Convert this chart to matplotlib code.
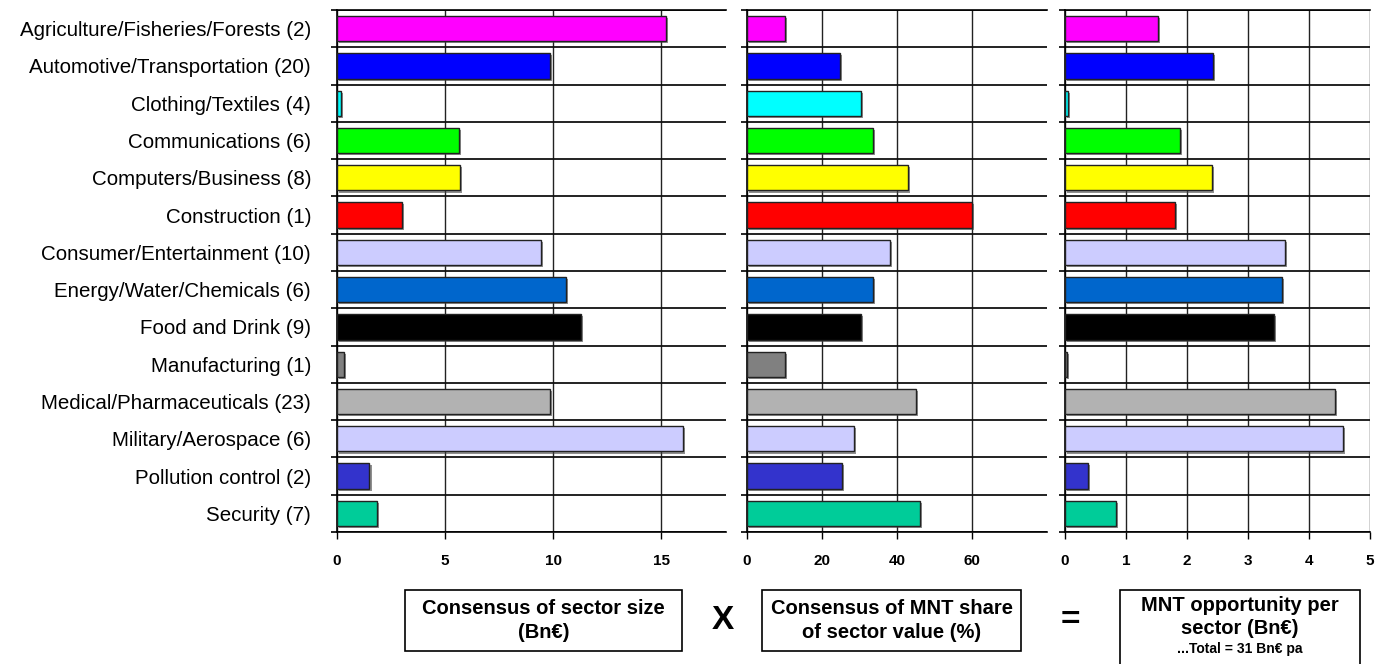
import matplotlib
matplotlib.use("Agg")
import matplotlib.pyplot as plt
import matplotlib.patheffects as pe
from matplotlib.patches import Rectangle
import numpy as np

plt.rcParams['font.family'] = ['Liberation Sans', 'DejaVu Sans']

# Données
sectors = ["Agriculture/Fisheries/Forests (2)", "Automotive/Transportation (20)",
           "Clothing/Textiles (4)", "Communications (6)", "Computers/Business (8)",
           "Construction (1)", "Consumer/Entertainment (10)", "Energy/Water/Chemicals (6)",
           "Food and Drink (9)", "Manufacturing (1)", "Medical/Pharmaceuticals (23)",
           "Military/Aerospace (6)", "Pollution control (2)", "Security (7)"]
sector_size = [15.2, 9.85, 0.2, 5.65, 5.7, 3.0, 9.45, 10.6, 11.3, 0.3, 9.85, 16.0, 1.5, 1.85]
mnt_share = [10, 24.8, 30.5, 33.5, 43, 60, 38.2, 33.5, 30.3, 10, 45, 28.5, 25.2, 46]
mnt_value = [1.52, 2.42, 0.05, 1.89, 2.41, 1.8, 3.6, 3.55, 3.42, 0.03, 4.42, 4.55, 0.38, 0.83]
colors = ["#FF00FF", "#0000FF", "#00FFFF", "#00FF00", "#FFFF00", "#FF0000", "#CCCCFF",
          "#0066CC", "#000000", "#808080", "#B2B2B2", "#CCCCFF", "#3333CC", "#00CC99"]

ticks1 = [0, 5, 10, 15]
ticks2 = [0, 20, 40, 60]
ticks3 = [0, 1, 2, 3, 4, 5]

fig = plt.figure(figsize=(13.78, 6.64), dpi=100)

panels = [
    (sector_size, 18, ticks1, [0.2446, 0.1988, 0.2823, 0.7861]),
    (mnt_share, 80, ticks2, [0.5421, 0.1988, 0.2177, 0.7861]),
    (mnt_value, 5, ticks3, [0.7729, 0.1988, 0.2213, 0.7861]),
]

n = len(sectors)
y = np.arange(n)
shadow = [pe.SimplePatchShadow(offset=(1.5, -1.5), shadow_rgbFace="#444444", alpha=0.6), pe.Normal()]

for i, (vals, xmax, ticks, rect) in enumerate(panels):
    ax = fig.add_axes(rect)
    bars = ax.barh(y, vals, height=0.68, color=colors, edgecolor="#222222", linewidth=1.0, zorder=3)
    for b in bars:
        b.set_path_effects(shadow)
    ax.set_xlim(0, xmax)
    ax.set_ylim(n - 0.5, -0.5)
    ax.set_axisbelow(True)

    ax.set_xticks(ticks, labels=[str(t) for t in ticks],
                  fontfamily=['Liberation Sans Narrow', 'Liberation Sans'],
                  fontweight='bold', fontsize=11)
    ax.tick_params(axis='x', direction='out', length=5, width=1, pad=11, color='black')
    ax.grid(axis='x', which='major', color='#222222', linewidth=1.0)

    ax.set_yticks(y)
    ax.set_yticks(np.arange(-0.5, n), minor=True)
    ax.tick_params(axis='y', which='major', length=0, pad=18.7)
    ax.tick_params(axis='y', which='minor', direction='out', length=4, width=1.2, color='black')
    ax.grid(axis='y', which='minor', color='#111111', linewidth=1.3)
    if i == 0:
        ax.set_yticklabels(sectors, fontsize=14.8)
    else:
        ax.set_yticklabels([])

    ax.spines['right'].set_visible(False)
    for s in ['left', 'top', 'bottom']:
        ax.spines[s].set_linewidth(1.2)
        ax.spines[s].set_color('black')

# Encadrés du bas
boxes = [
    ([0.2939, 0.0196], 0.2010, 0.0918),
    ([0.5530, 0.0196], 0.1880, 0.0918),
    ([0.8128, -0.01], 0.1741, 0.1214),
]
for (xy, w, h) in boxes:
    fig.add_artist(Rectangle(xy, w, h, transform=fig.transFigure, fill=False,
                             edgecolor='black', linewidth=1.2))

fig.text(0.3944, 0.0650, "Consensus of sector size\n(Bn€)", ha='center', va='center',
         fontsize=14.5, fontweight='bold', linespacing=1.35)
fig.text(0.6470, 0.0650, "Consensus of MNT share\nof sector value (%)", ha='center', va='center',
         fontsize=14.5, fontweight='bold', linespacing=1.35)
fig.text(0.8998, 0.0710, "MNT opportunity per\nsector (Bn€)", ha='center', va='center',
         fontsize=14.5, fontweight='bold', linespacing=1.3)
fig.text(0.8998, 0.0220, "...Total = 31 Bn€ pa", ha='center', va='center',
         fontsize=10, fontweight='bold')
fig.text(0.5247, 0.0648, "X", ha='center', va='center', fontsize=24, fontweight='bold')
fig.text(0.7765, 0.0648, "=", ha='center', va='center', fontsize=24, fontweight='bold')

fig.savefig("out.png", dpi=100)
